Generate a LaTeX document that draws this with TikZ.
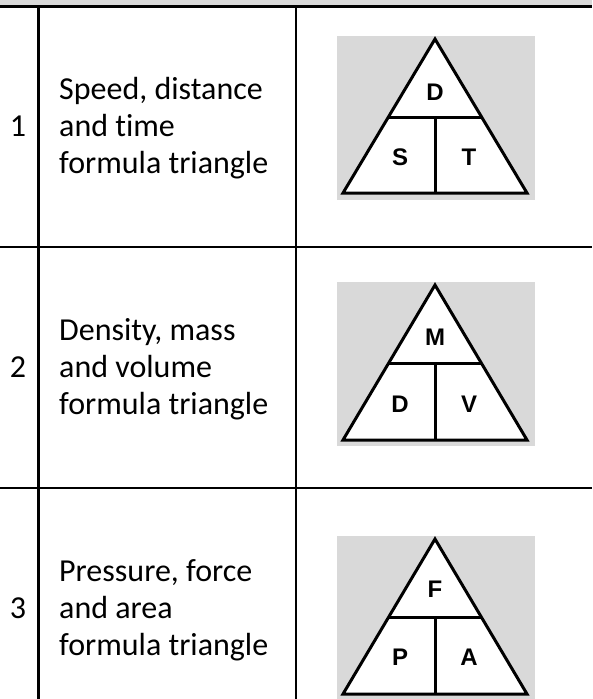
\documentclass[tikz,border=0pt]{standalone}
\usepackage{fontspec}
\setmainfont{Carlito}[Ligatures=NoCommon]
\newfontfamily\trifont{Liberation Sans}
\usetikzlibrary{positioning}
\definecolor{tblgray}{HTML}{D9D9D9}
\definecolor{trigray}{HTML}{D9D9D9}

\begin{document}
\begin{tikzpicture}[
  x=1pt, y=-1pt,
  rule/.style={line width=2.4pt, black},
  rowtext/.style={font=\fontsize{32}{37}\selectfont, align=left, anchor=west, inner sep=0pt},
  rownum/.style={font=\fontsize{32}{37}\selectfont, anchor=base, inner sep=0pt},
  triline/.style={line width=3pt, line join=miter},
  letter/.style={font=\trifont\bfseries\fontsize{24}{24}\selectfont, inner sep=0pt}
]
  \useasboundingbox (0,0) rectangle (592,699);

  % header strip
  \fill[tblgray] (0,0) rectangle (592,6.5);

  % table rules
  \draw[rule] (0,6.5) -- (592,6.5);
  \draw[rule] (0,247) -- (592,247);
  \draw[rule] (0,488) -- (592,488);
  \draw[rule] (38.5,6.5) -- (38.5,699);
  \draw[rule] (296,6.5) -- (296,699);

  % row 1
  \node[rownum] (n1) at (18,136) {1};
  \node[rowtext] (t1) at (59,128.5) {Speed, distance\\and time\\formula triangle};
  \fill[trigray] (337,36) rectangle (535,200);
  \draw[triline, fill=white] (435,39) -- (527,193) -- (343,193) -- cycle;
  \draw[triline] (388.4,117) -- (481.6,117);
  \draw[triline] (435,117) -- (435,193);
  \node[letter] (d1) at (435,92) {D};
  \node[letter] (s1) at (400,157) {S};
  \node[letter] (tt1) at (469,157) {T};

  % row 2
  \node[rownum] (n2) at (18,377) {2};
  \node[rowtext] (t2) at (59,369.5) {Density, mass\\and volume\\formula triangle};
  \fill[trigray] (337,282) rectangle (535,446);
  \draw[triline, fill=white] (435,285) -- (527,440) -- (343,440) -- cycle;
  \draw[triline] (388.4,363) -- (481.6,363);
  \draw[triline] (435,363) -- (435,440);
  \node[letter] (m2) at (435,337) {M};
  \node[letter] (d2) at (400,404) {D};
  \node[letter] (v2) at (469,404) {V};

  % row 3
  \node[rownum] (n3) at (18,618) {3};
  \node[rowtext] (t3) at (59,610.5) {Pressure, force\\and area\\formula triangle};
  \fill[trigray] (337,536) rectangle (535,700);
  \draw[triline, fill=white] (435,539) -- (527,694) -- (343,694) -- cycle;
  \draw[triline] (388.4,617) -- (481.6,617);
  \draw[triline] (435,617) -- (435,694);
  \node[letter] (f3) at (435,589) {F};
  \node[letter] (p3) at (400,657) {P};
  \node[letter] (a3) at (469,657) {A};
\end{tikzpicture}
\end{document}
